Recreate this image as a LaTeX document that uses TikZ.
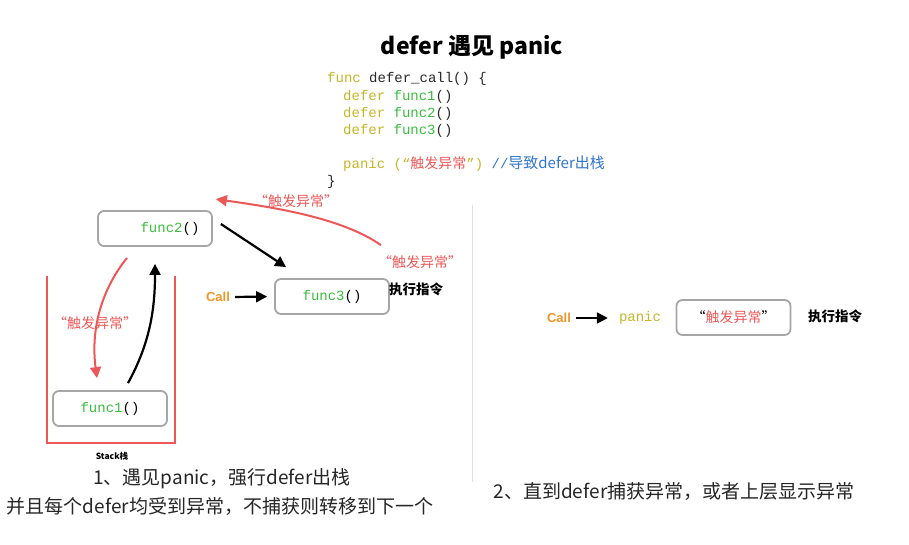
\documentclass[tikz,border=0pt]{standalone}
\usepackage{fontspec}
\setmainfont{Liberation Sans}
\setmonofont{Liberation Mono}
\newfontfamily\cjk{Noto Sans CJK SC}
\usetikzlibrary{arrows.meta}

\definecolor{kwyellow}{RGB}{198,182,40}
\definecolor{fngreen}{RGB}{58,190,62}
\definecolor{warnred}{RGB}{236,88,88}
\definecolor{callorange}{RGB}{240,150,40}
\definecolor{cmtblue}{RGB}{48,118,208}
\definecolor{codedark}{RGB}{40,40,40}

\begin{document}
\begin{tikzpicture}[
    x=1pt, y=-1pt,
    >={Triangle[length=11pt,width=11pt]},
    fbox/.style={draw=gray!70, line width=1.8pt, rounded corners=6pt,
                 minimum width=114pt, minimum height=35pt, inner sep=0pt,
                 font=\ttfamily\fontsize{14}{16}\selectfont},
    code/.style={anchor=base west, inner sep=0pt, text=codedark,
                 font=\ttfamily\fontsize{14}{16}\selectfont},
    warn/.style={text=warnred, inner sep=1pt, font=\cjk\fontsize{14}{16}\selectfont},
    exec/.style={inner sep=1pt, font=\cjk\bfseries\fontsize{13.5}{15}\selectfont},
    call/.style={text=callorange, inner sep=1pt, font=\bfseries\fontsize{13}{15}\selectfont},
    caption/.style={inner sep=0pt, text=black!85, font=\cjk\fontsize{19}{27}\selectfont, align=center},
    blackarr/.style={->, black, line width=2.2pt},
    redarr/.style={->, warnred, line width=2pt},
    stackline/.style={draw=warnred, line width=2.2pt},
]
\useasboundingbox[fill=white] (0,0) rectangle (909,545);

% Title and code
\node[font=\cjk\bfseries\fontsize{23}{26}\selectfont] (title) at (472,47) {defer 遇见 panic};
\node[code] (code1) at (327,82.5) {\textcolor{kwyellow}{func} defer\_call() \{};
\node[code] (code2) at (343,100.5) {\textcolor{kwyellow}{defer} \textcolor{fngreen}{func1}()};
\node[code] (code3) at (343,117.5) {\textcolor{kwyellow}{defer} \textcolor{fngreen}{func2}()};
\node[code] (code4) at (343,134.5) {\textcolor{kwyellow}{defer} \textcolor{fngreen}{func3}()};
\node[code] (code5) at (343,168.5) {\textcolor{kwyellow}{panic (“}{\cjk\textcolor{warnred}{触发异常}}\textcolor{kwyellow}{”)} \textcolor{cmtblue}{//{\cjk\fontsize{15}{16}\selectfont 导致defer出栈}}};
\node[code] (code6) at (327,185.5) {\}};

% Separator
\draw[gray!25, line width=1pt] (472,205) -- (472,482);

% Left part: stack and calls
\draw[stackline] (47,276) |- (175,443) -- (175,276);
\node[inner sep=0pt, font=\cjk\bfseries\fontsize{8.5}{10}\selectfont] (stack) at (112,456) {Stack栈};

\node[fbox] (func2) at (155,228.5) {\hspace*{30pt}\textcolor{fngreen}{func2}()};
\node[fbox] (func3) at (332,296.5) {\textcolor{fngreen}{func3}()};
\node[fbox] (func1) at (110,408.5) {\textcolor{fngreen}{func1}()};

\node[call] (call1) at (218,297) {Call};
\node[exec] (exec1) at (416,289) {执行指令};

\node[warn] (warntop) at (296,201) {“触发异常”};
\node[warn] (warnright) at (420,262) {“触发异常”};
\node[warn] (warnstack) at (95,323) {“触发异常”};

\draw[blackarr] (call1.east) -- (func3.west) [shorten <=4pt, shorten >=7pt];
\draw[blackarr] ([xshift=8pt,yshift=4.5pt]func2.east) -- ([xshift=12pt,yshift=11pt]func3.north west);
\draw[redarr] ([xshift=-9pt,yshift=33pt]func3.north east)
    .. controls +(-40,-28) and +(55,8) .. ([xshift=3pt,yshift=11pt]func2.north east);
\draw[redarr] ([xshift=-28pt,yshift=-11pt]func2.south)
    .. controls +(-28,35) and +(-6,-45) .. ([xshift=-13pt,yshift=12pt]func1.north);
\draw[blackarr] ([xshift=18pt,yshift=7pt]func1.north)
    .. controls +(22,-40) and +(0,45) .. ([yshift=-17pt]func2.south);

% Right part
\node[call] (call2) at (559,318) {Call};
\node[code, anchor=center, text=kwyellow] (panic) at (640,318) {panic};
\node[fbox] (panicbox) at (733.5,317.5) {{\cjk\fontsize{14}{16}\selectfont “\textcolor{warnred}{触发异常}”}};
\node[exec] (exec2) at (835,316) {执行指令};
\draw[blackarr] (call2.east) -- (panic.west) [shorten <=4pt, shorten >=11pt];

% Captions
\node[caption] (cap1) at (222,479) {1、遇见panic，强行defer出栈};
\node[caption] (cap2) at (220,506) {并且每个defer均受到异常，不捕获则转移到下一个};
\node[caption] (cap3) at (674,492) {2、直到defer捕获异常，或者上层显示异常};
\end{tikzpicture}
\end{document}
